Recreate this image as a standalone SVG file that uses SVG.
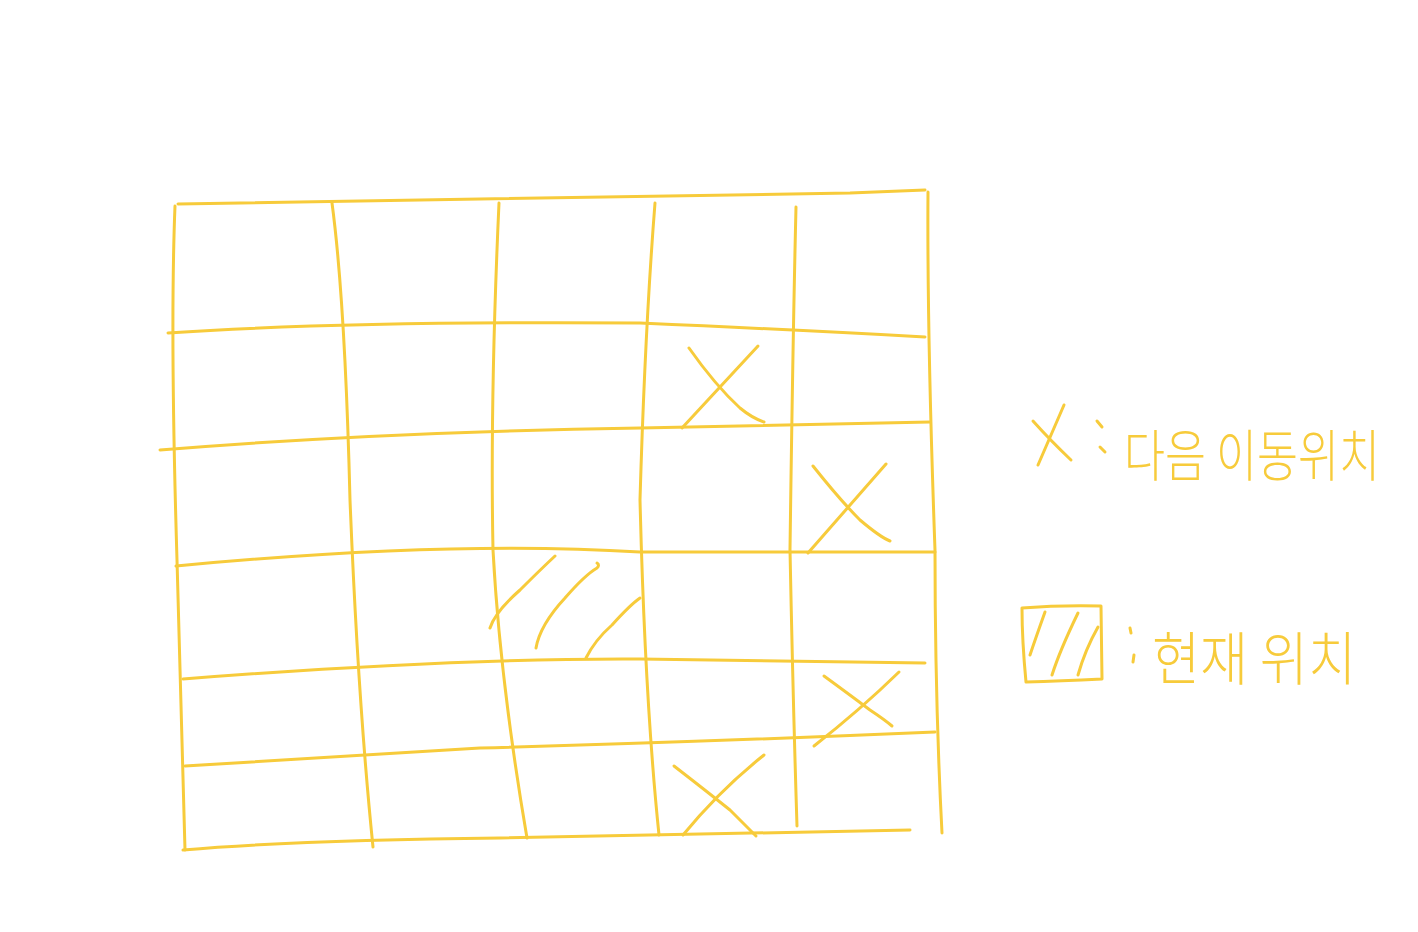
<svg xmlns="http://www.w3.org/2000/svg" width="1418" height="932" viewBox="0 0 1418 932">
<style>
.ln{fill:none;stroke:#F7CB3B;stroke-width:3;stroke-linecap:round;stroke-linejoin:round}
.tx{fill:#F7CB3B;font-family:"Noto Sans CJK KR","Noto Sans",sans-serif;font-weight:300}
</style>
<rect width="1418" height="932" fill="#ffffff"/>
<g id="grid" class="ln">
<path d="M178,204 Q500,198 850,193 L925,190"/>
<path d="M168,333 Q340,321 640,323 Q800,330 925,337"/>
<path d="M160,450 Q380,432 640,428 L930,422"/>
<path d="M176,566 Q450,540 640,552 L935,552"/>
<path d="M183,679 Q450,658 640,659 L925,663"/>
<path d="M185,766 Q260,762 480,748 Q700,742 935,732"/>
<path d="M183,850 Q300,840 500,838 L910,830"/>
<path d="M175,206 Q170,330 177,560 L185,850"/>
<path d="M332,203 Q345,300 350,500 Q358,700 373,847"/>
<path d="M499,203 Q490,400 493,550 Q500,680 527,838"/>
<path d="M655,203 Q645,330 640,500 Q645,700 659,835"/>
<path d="M796,207 Q793,330 790,550 Q793,700 797,826"/>
<path d="M928,192 Q927,330 935,550 Q935,700 942,833"/>
</g>
<g id="current" class="ln">
<path d="M490,628 Q495,612 520,590 Q540,570 555,556"/>
<path d="M536,648 Q540,625 565,598 Q585,575 597,568 Q600,565 597,563"/>
<path d="M586,658 Q595,640 612,625 Q630,605 640,598"/>
</g>
<g id="next1" class="ln"><path d="M682,428 L758,346"/><path d="M689,348 Q715,385 740,408 Q752,418 764,422"/></g>
<g id="next2" class="ln"><path d="M808,553 L886,464"/><path d="M813,466 Q840,500 860,520 Q880,537 890,541"/></g>
<g id="next3" class="ln"><path d="M814,746 Q860,710 899,672"/><path d="M824,676 Q850,695 870,710 Q885,720 892,726"/></g>
<g id="next4" class="ln"><path d="M683,835 Q720,790 764,755"/><path d="M674,766 Q705,790 730,810 Q745,825 756,836"/></g>
<g id="legend-next">
<g class="ln"><path d="M1038,465 L1064,405"/><path d="M1033,421 Q1050,440 1071,460"/><path d="M1097,421 L1102,427"/><path d="M1100,447 L1105,452"/></g>
<text class="tx" x="1124" y="476" font-size="56" textLength="256" lengthAdjust="spacingAndGlyphs">다음 이동위치</text>
</g>
<g id="legend-current">
<g class="ln"><path d="M1022,608 Q1060,605 1101,606 L1102,679 Q1060,681 1026,682 Q1022,640 1022,608"/>
<path d="M1045,612 Q1035,640 1030,655"/><path d="M1078,613 Q1060,650 1052,675"/><path d="M1098,627 Q1085,650 1078,675"/>
<path d="M1130,628 L1131,633"/><path d="M1134,655 L1133,662"/></g>
<text class="tx" x="1152" y="680" font-size="58" textLength="204" lengthAdjust="spacingAndGlyphs">현재 위치</text>
</g>
</svg>
